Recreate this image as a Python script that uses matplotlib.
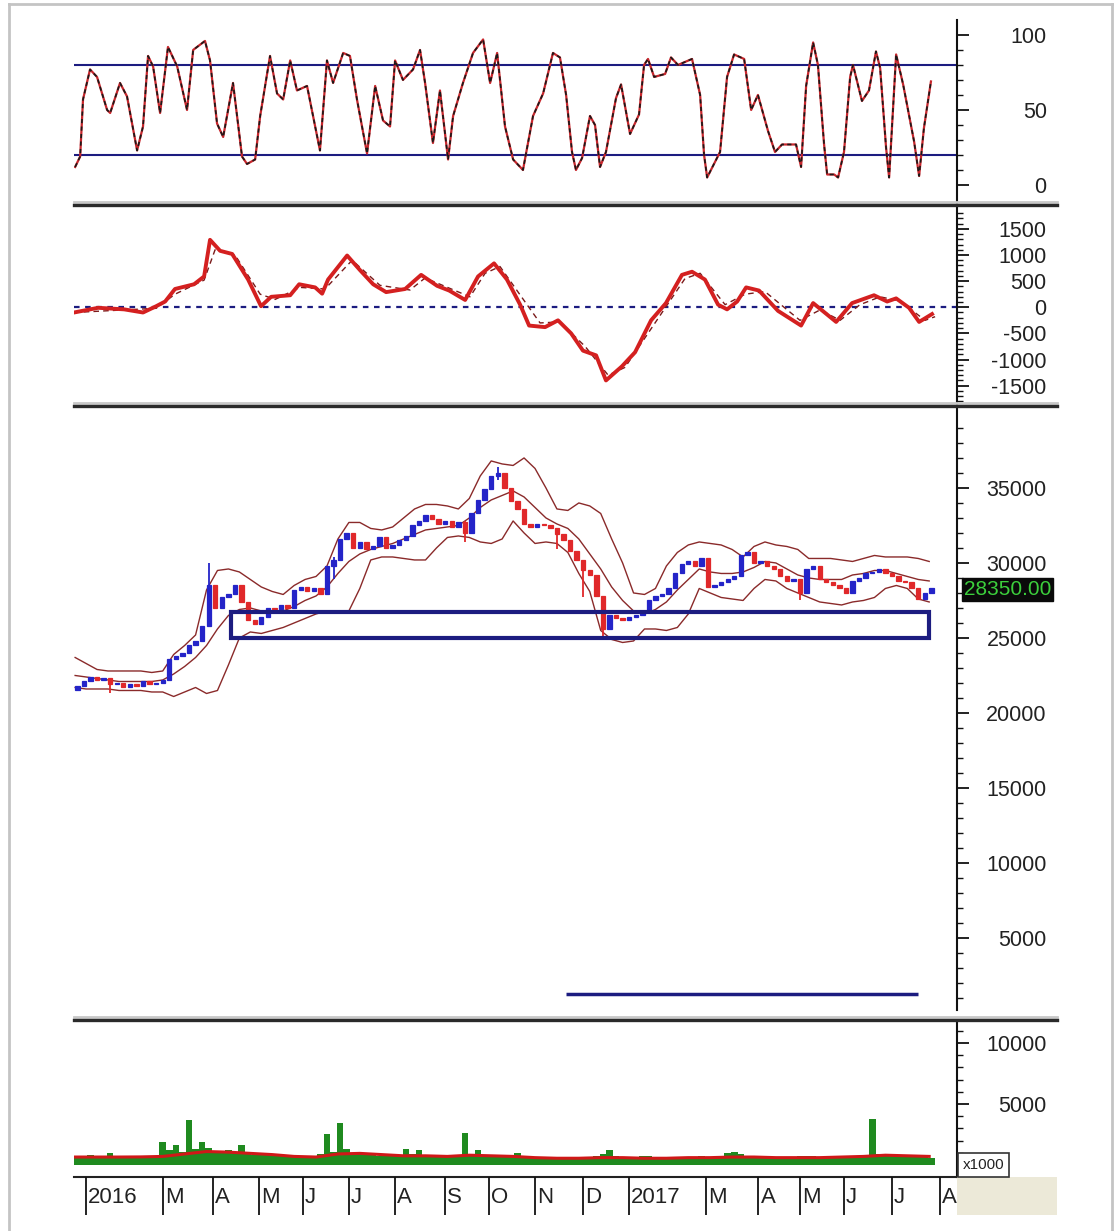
import numpy as np
import matplotlib
matplotlib.use('Agg')
import matplotlib.pyplot as plt
from matplotlib.patches import Rectangle
from matplotlib.lines import Line2D
from matplotlib.ticker import FixedLocator

plt.rcParams['font.family'] = ['Liberation Sans', 'DejaVu Sans']

# x axis = trading-session index, 0 = first session of January 2016
month_days = [0, 35, 58, 79, 99, 120, 141, 164, 184, 205, 227, 248, 283, 307, 326, 346, 368, 390]
month_labels = ['2016', 'M', 'A', 'M', 'J', 'J', 'A', 'S', 'O', 'N', 'D',
                '2017', 'M', 'A', 'M', 'J', 'J', 'A']

# stochastic oscillator
stoch_days = [-5.0, -2.7, -1.4, 1.8, 5.0, 9.6, 11.0, 15.5, 18.7, 23.3,
              26.0, 28.3, 30.6, 33.8, 37.4, 41.6, 46.1, 48.9, 54.3, 56.6,
              59.8, 62.6, 67.1, 71.2, 73.5, 77.2, 79.5, 84.0, 87.2, 90.0,
              93.2, 96.3, 100.9, 106.8, 110.0, 112.8, 117.4, 120.5, 123.7, 128.3,
              132.0, 135.6, 138.8, 141.1, 144.7, 149.3, 152.5, 154.8, 158.4, 161.6,
              165.3, 167.6, 172.1, 176.7, 181.3, 184.5, 187.7, 191.3, 195.0, 199.5,
              204.1, 208.7, 213.2, 216.4, 219.2, 221.9, 223.7, 226.5, 230.1, 232.4,
              234.7, 237.4, 242.0, 244.3, 248.4, 252.5, 254.8, 256.6, 259.4, 264.4,
              267.1, 270.3, 273.5, 276.7, 280.4, 282.2, 283.6, 289.5, 292.7, 295.9,
              300.5, 303.7, 306.8, 311.4, 314.6, 317.8, 324.2, 326.5, 328.8, 332.0,
              334.2, 337.0, 338.4, 341.6, 343.4, 346.1, 348.9, 350.2, 354.3, 357.5,
              360.7, 362.6, 365.3, 366.7, 369.9, 373.1, 378.1, 380.4, 382.6, 385.8]
stoch_vals = [12, 19, 57, 77, 72, 50, 48, 68, 59, 23,
              39, 86, 79, 48, 92, 79, 50, 90, 96, 83,
              41, 32, 68, 19, 14, 17, 46, 86, 61, 57,
              83, 63, 66, 23, 83, 68, 88, 86, 57, 21,
              66, 43, 39, 83, 70, 77, 90, 68, 28, 63,
              17, 46, 68, 88, 97, 68, 88, 39, 17, 10,
              46, 61, 88, 85, 60, 22, 10, 18, 46, 40,
              12, 22, 58, 67, 34, 47, 80, 84, 72, 74,
              85, 80, 82, 84, 60, 20, 5, 22, 72, 87,
              84, 50, 60, 36, 22, 27, 27, 12, 66, 95,
              80, 27, 7, 7, 5, 22, 72, 80, 56, 63,
              89, 78, 25, 5, 87, 67, 29, 6, 38, 69]

# MACD line and its signal line
macd_days = [-5.5, 5.5, 17.4, 26.0, 32.0, 36.1, 40.6, 49.3, 53.9, 56.6,
             61.2, 66.7, 74.0, 79.9, 84.5, 93.2, 97.3, 104.6, 107.8, 110.5,
             119.2, 125.1, 131.1, 137.0, 145.7, 153.0, 160.3, 165.8, 173.1, 179.0,
             186.3, 192.2, 198.2, 202.3, 209.6, 215.5, 221.5, 226.9, 232.9, 237.4,
             244.7, 250.7, 258.0, 264.8, 272.1, 276.7, 282.6, 288.6, 292.7, 297.3,
             301.4, 307.3, 316.0, 326.5, 332.0, 342.5, 349.8, 359.8, 365.8, 369.9,
             375.8, 380.4, 386.3]
macd_vals = [-100, -10, -40, -100, 20, 110, 350, 440, 590, 1290,
             1080, 1020, 530, 20, 200, 230, 440, 380, 260, 530,
             990, 710, 440, 290, 350, 620, 410, 320, 140, 590,
             840, 530, 50, -350, -380, -250, -500, -830, -920, -1400,
             -1130, -860, -250, 80, 620, 680, 530, 50, -40, 110,
             380, 320, -70, -350, 80, -280, 80, 230, 110, 170,
             -10, -280, -130]
signal_days = [-5.5, 17.4, 32.0, 40.6, 53.9, 58.9, 68.0, 79.5, 86.3, 97.7,
               109.1, 121.5, 134.2, 147.9, 154.8, 166.2, 175.3, 182.2, 189.0, 200.5,
               207.3, 216.4, 227.9, 238.4, 246.1, 259.8, 273.5, 280.4, 291.8, 300.9,
               310.0, 326.0, 335.2, 344.3, 353.4, 362.6, 371.7, 383.1, 387.7]
signal_vals = [-100, -50, -20, 250, 520, 1100, 1000, 250, 150, 380,
               350, 900, 420, 330, 560, 360, 200, 650, 780, 100,
               -300, -280, -750, -1300, -1150, -300, 550, 650, 50, 250,
               300, -250, -50, -250, 50, 200, 120, -250, -180]

# price candles, one every 3 sessions
candle_days = list(range(-4, 389, 3))
first_open = 21500
closes = [21800, 22100, 22400, 22200, 22300, 21900, 22000, 21700, 21900, 21800, 22100, 21900, 22000,
          22200, 23600, 23800, 24000, 24500, 24800, 25800,
          28500, 27000, 27700, 27900, 28500, 27400, 26200, 25900, 26400, 27000,
          26900, 27200, 27000, 28200, 28400, 28100, 28300, 27900, 29800, 30200,
          31600, 32000, 31000, 31400, 30900, 31100, 31700, 31000, 31200, 31500,
          31800, 32500, 32800, 33200, 32900, 32600, 32800, 32400, 32700, 32000,
          33300, 34200, 34900, 35800, 36000, 35000, 34100, 33600, 32600, 32400,
          32600, 32500, 32300, 31900, 31500, 30800, 30200, 29500, 29200, 27800,
          25600, 26500, 26300, 26200, 26400, 26500, 26800, 27500, 27800, 27900,
          28300, 29300, 29900, 30100, 29800, 30300, 28400, 28500, 28700, 28900,
          29100, 30500, 30700, 30000, 30100, 29800, 29600, 29100, 28800, 28900,
          28000, 29600, 29800, 28900, 28700, 28500, 28300, 28000, 28800, 29000,
          29300, 29400, 29600, 29300, 29100, 28800, 28700, 28300, 27600, 28000,
          28350]
wick_days = [11, 56, 113, 173, 188, 215, 227, 236, 326]
wick_low = [21300, 25800, 28900, 31400, 35500, 30900, 27700, 25000, 27500]
wick_high = [22200, 30000, 30400, 32800, 36400, 32300, 30200, 27800, 28900]

# Bollinger bands, read every 5 sessions
band_days = list(range(-5, 390, 5))
band_upper = [23700, 23300, 22900, 22800, 22800, 22800, 22800, 22700, 22800, 23900,
              24500, 25200, 28200, 29500, 29600, 29400, 28900, 28400, 28100, 27900,
              28500, 28900, 29100, 29800, 31600, 32700, 32700, 32300, 32200, 32400,
              33000, 33600, 33900, 33900, 33800, 33600, 34300, 35800, 36800, 36600,
              36500, 37000, 36300, 35000, 33600, 33500, 34000, 33800, 33300, 31600,
              30000, 28000, 27900, 28300, 29800, 30700, 31200, 31400, 31300, 31200,
              30900, 30400, 31100, 31400, 31200, 31100, 30900, 30300, 30300, 30300,
              30200, 30100, 30300, 30500, 30400, 30400, 30400, 30300, 30100]
band_mid = [22500, 22400, 22300, 22200, 22100, 22100, 22100, 22100, 22200, 22600,
            23100, 23700, 24500, 25600, 26500, 26900, 27000, 26800, 26700, 26800,
            27100, 27500, 27800, 28400, 29300, 30100, 30600, 30900, 31100, 31300,
            31600, 31900, 32200, 32300, 32400, 32500, 33000, 33700, 34200, 34500,
            34800, 34400, 33700, 33000, 32600, 32300, 31600, 30600, 29600, 28400,
            27500, 26800, 26600, 26900, 27400, 28200, 28900, 29600, 29400, 29300,
            29300, 29400, 29700, 30100, 30000, 29600, 29200, 29000, 28900, 28900,
            28900, 29200, 29300, 29500, 29500, 29300, 29100, 28900, 28800]
band_lower = [21700, 21600, 21600, 21600, 21500, 21500, 21500, 21400, 21400, 21100,
              21400, 21700, 21300, 21500, 23200, 25000, 25400, 25300, 25500, 25700,
              26000, 26300, 26600, 26800, 26700, 26800, 28300, 30200, 30400, 30400,
              30300, 30200, 30200, 31000, 31700, 31800, 31700, 31400, 31300, 31600,
              32800, 32000, 31300, 31400, 31300, 30700, 29300, 28100, 25500, 24900,
              24700, 24800, 25600, 25600, 25500, 25700, 26600, 28300, 28000, 27700,
              27600, 27500, 28300, 28900, 28800, 28300, 28000, 27700, 27400, 27300,
              27200, 27400, 27500, 27700, 28300, 28500, 28300, 27600, 27400]

# hand-drawn support zone and line
zone_days = [66, 385]
zone_prices = [25000, 26700]
line_days = [219, 380]
line_price = 1300

# volume (x1000) per candle and its moving average
volumes = [700, 650, 800, 700, 650, 1000, 700, 650, 750, 700, 750, 650, 700,
           1900, 1200, 1600, 1100, 3700, 1300, 1900,
           1400, 1100, 1000, 1200, 1000, 1600, 900, 850, 800, 850,
           800, 750, 700, 750, 700, 650, 700, 900, 2500, 1100,
           3400, 1300, 1000, 900, 850, 800, 750, 800, 700, 750,
           1300, 900, 1200, 800, 750, 800, 700, 750, 800, 2600,
           900, 1200, 800, 750, 700, 700, 650, 1000, 650, 600,
           650, 600, 650, 600, 550, 600, 550, 600, 650, 700,
           900, 1200, 700, 600, 550, 600, 700, 750, 600, 550,
           600, 650, 600, 650, 600, 750, 650, 600, 650, 1000,
           1050, 900, 700, 650, 600, 650, 600, 550, 600, 650,
           700, 750, 750, 650, 600, 650, 700, 650, 700, 750,
           800, 3800, 900, 750, 700, 750, 650, 700, 750, 650,
           600]
vol_ma_days = list(range(-5, 390, 10))
vol_ma = [650, 650, 650, 660, 700, 900, 1100, 1050, 950, 850,
          700, 650, 900, 950, 850, 750, 750, 700, 800, 750,
          700, 600, 550, 550, 600, 600, 550, 550, 600, 600,
          650, 650, 600, 600, 600, 650, 700, 800, 750, 700]

BLUE = '#2424c8'
RED = '#e0282a'
NAVY = '#1c1c80'
TXT = '#222222'

fig = plt.figure(figsize=(11.15, 12.31), dpi=100)
L, W = 0.0664, 0.7919
ax1 = fig.add_axes([L, 0.8351, W, 0.1487])
ax2 = fig.add_axes([L, 0.6718, W, 0.1596])
ax3 = fig.add_axes([L, 0.1795, W, 0.4883])
ax4 = fig.add_axes([L, 0.0439, W, 0.1259])
axd = fig.add_axes([L, 0.0130, W, 0.0309])
xlim = (-5.5, 397.7)


def right_axis(ax, major, minor, labels):
    ax.set_xlim(*xlim)
    ax.set_xticks([])
    ax.yaxis.tick_right()
    ax.yaxis.set_major_locator(FixedLocator(major))
    ax.yaxis.set_minor_locator(FixedLocator(minor))
    ax.set_yticklabels(labels)
    ax.tick_params(axis='y', which='major', length=8.6, width=1.3, pad=56,
                   labelsize=15.5, labelcolor=TXT, color='#111111')
    ax.tick_params(axis='y', which='minor', length=4.3, width=1.0, color='#111111')
    for lbl in ax.get_yticklabels():
        lbl.set_horizontalalignment('right')
    for s in ['left', 'top', 'bottom']:
        ax.spines[s].set_visible(False)
    ax.spines['right'].set_linewidth(1.5)
    ax.spines['right'].set_color('#111111')


# --- stochastic panel
ax1.plot(stoch_days, stoch_vals, color='#c8262c', lw=1.6, zorder=3)
ax1.plot(stoch_days, stoch_vals, color='#1a1a1a', lw=1.2, dashes=(2.5, 2), zorder=4)
ax1.axhline(80, color=NAVY, lw=1.5, zorder=2)
ax1.axhline(20, color=NAVY, lw=1.5, zorder=2)
ax1.set_ylim(-12, 110)
right_axis(ax1, [0, 50, 100], [10, 20, 30, 40, 60, 70, 80, 90], ['0', '50', '100'])

# --- MACD panel
ax2.plot(signal_days, signal_vals, color='#7a1a1a', lw=1.0, dashes=(4, 3), zorder=3)
ax2.plot(macd_days, macd_vals, color='#d42020', lw=2.8, zorder=4)
ax2.axhline(0, color=NAVY, lw=1.6, dashes=(2.5, 2.5), zorder=2)
ax2.set_ylim(-1851, 1908)
macd_major = [-1500, -1000, -500, 0, 500, 1000, 1500]
right_axis(ax2, macd_major, [v for v in range(-1800, 1900, 100) if v % 500],
           [str(v) for v in macd_major])

# --- price panel
opens = [first_open] + closes[:-1]
body = [c - o for o, c in zip(opens, closes)]
ccol = [BLUE if c >= o else RED for o, c in zip(opens, closes)]
ax3.plot(band_days, band_upper, color='#8a2a2a', lw=1.0, zorder=2)
ax3.plot(band_days, band_mid, color='#8a2a2a', lw=1.0, zorder=2)
ax3.plot(band_days, band_lower, color='#8a2a2a', lw=1.0, zorder=2)
wcol = [ccol[candle_days.index(d)] for d in wick_days]
ax3.vlines(wick_days, wick_low, wick_high, colors=wcol, lw=1.3, zorder=3)
ax3.bar(candle_days, body, bottom=opens, width=2.0, color=ccol, edgecolor=ccol,
        linewidth=0.9, zorder=4)
ax3.add_patch(Rectangle((zone_days[0], zone_prices[0]), zone_days[1] - zone_days[0],
                        zone_prices[1] - zone_prices[0], fill=False,
                        edgecolor=NAVY, lw=3, zorder=5))
ax3.hlines(line_price, line_days[0], line_days[1], color=NAVY, lw=2.5, zorder=5)
ax3.set_ylim(200, 40267)
price_major = [5000, 10000, 15000, 20000, 25000, 30000, 35000]
right_axis(ax3, price_major, [v for v in range(1000, 41000, 1000) if v % 5000],
           [str(v) for v in price_major])
ax3.annotate('%.2f' % closes[-1], xy=(1.0, closes[-1]), xycoords=('axes fraction', 'data'),
             xytext=(5, -1), textcoords='offset points', ha='left', va='center',
             fontsize=15, color='#3ccf3c', annotation_clip=False, zorder=10,
             bbox=dict(boxstyle='square,pad=0.1', fc='#0a0a0a', ec='#0a0a0a'))

# --- volume panel
ax4.bar(candle_days, volumes, width=3.0, color='#1f8a1f', zorder=2)
ax4.plot(vol_ma_days, vol_ma, color='#d01818', lw=2.2, zorder=3)
ax4.set_ylim(-984, 11721)
right_axis(ax4, [5000, 10000], [v for v in range(1000, 12000, 1000) if v % 5000],
           ['5000', '10000'])
ax4.spines['bottom'].set_visible(True)
ax4.spines['bottom'].set_linewidth(1.5)
ax4.spines['bottom'].set_color('#222222')

# --- date strip
axd.set_xlim(*xlim)
axd.set_ylim(0, 1)
axd.axis('off')
axd.vlines(month_days, 0, 1, color='#111111', lw=1.3)
for d, lab in zip(month_days, month_labels):
    axd.text(d + 1.0, 0.45, lab, fontsize=16, color=TXT, ha='left', va='center')

# window chrome: panel splitters, frame, corner boxes
x0, x1 = 74 / 1115, 1057 / 1115
for ypx in [205, 406, 1020]:
    yf = 1 - ypx / 1231
    fig.add_artist(Line2D([x0, x1], [yf + 3 / 1231, yf + 3 / 1231], transform=fig.transFigure,
                          color='#c8c8c8', lw=2.0))
    fig.add_artist(Line2D([x0, x1], [yf, yf], transform=fig.transFigure,
                          color='#2a2a2a', lw=2.4))
fig.add_artist(Rectangle((957 / 1115, 1 - 1215 / 1231), 100 / 1115, 38 / 1231,
                         transform=fig.transFigure, fc='#ece9d8', ec='none'))
fig.text(963 / 1115, 1 - 1165 / 1231, 'x1000', fontsize=11, color=TXT, ha='left', va='center',
         bbox=dict(boxstyle='square,pad=0.3', fc='white', ec='#333333', lw=1.2))
fr = '#c4c4c4'
fig.add_artist(Line2D([9 / 1115, 1112 / 1115], [1 - 4 / 1231, 1 - 4 / 1231],
                      transform=fig.transFigure, color=fr, lw=2))
fig.add_artist(Line2D([9 / 1115, 9 / 1115], [0, 1 - 4 / 1231],
                      transform=fig.transFigure, color=fr, lw=2))
fig.add_artist(Line2D([1112 / 1115, 1112 / 1115], [0, 1 - 4 / 1231],
                      transform=fig.transFigure, color=fr, lw=2))

fig.savefig('out.png', dpi=100, facecolor='white')
